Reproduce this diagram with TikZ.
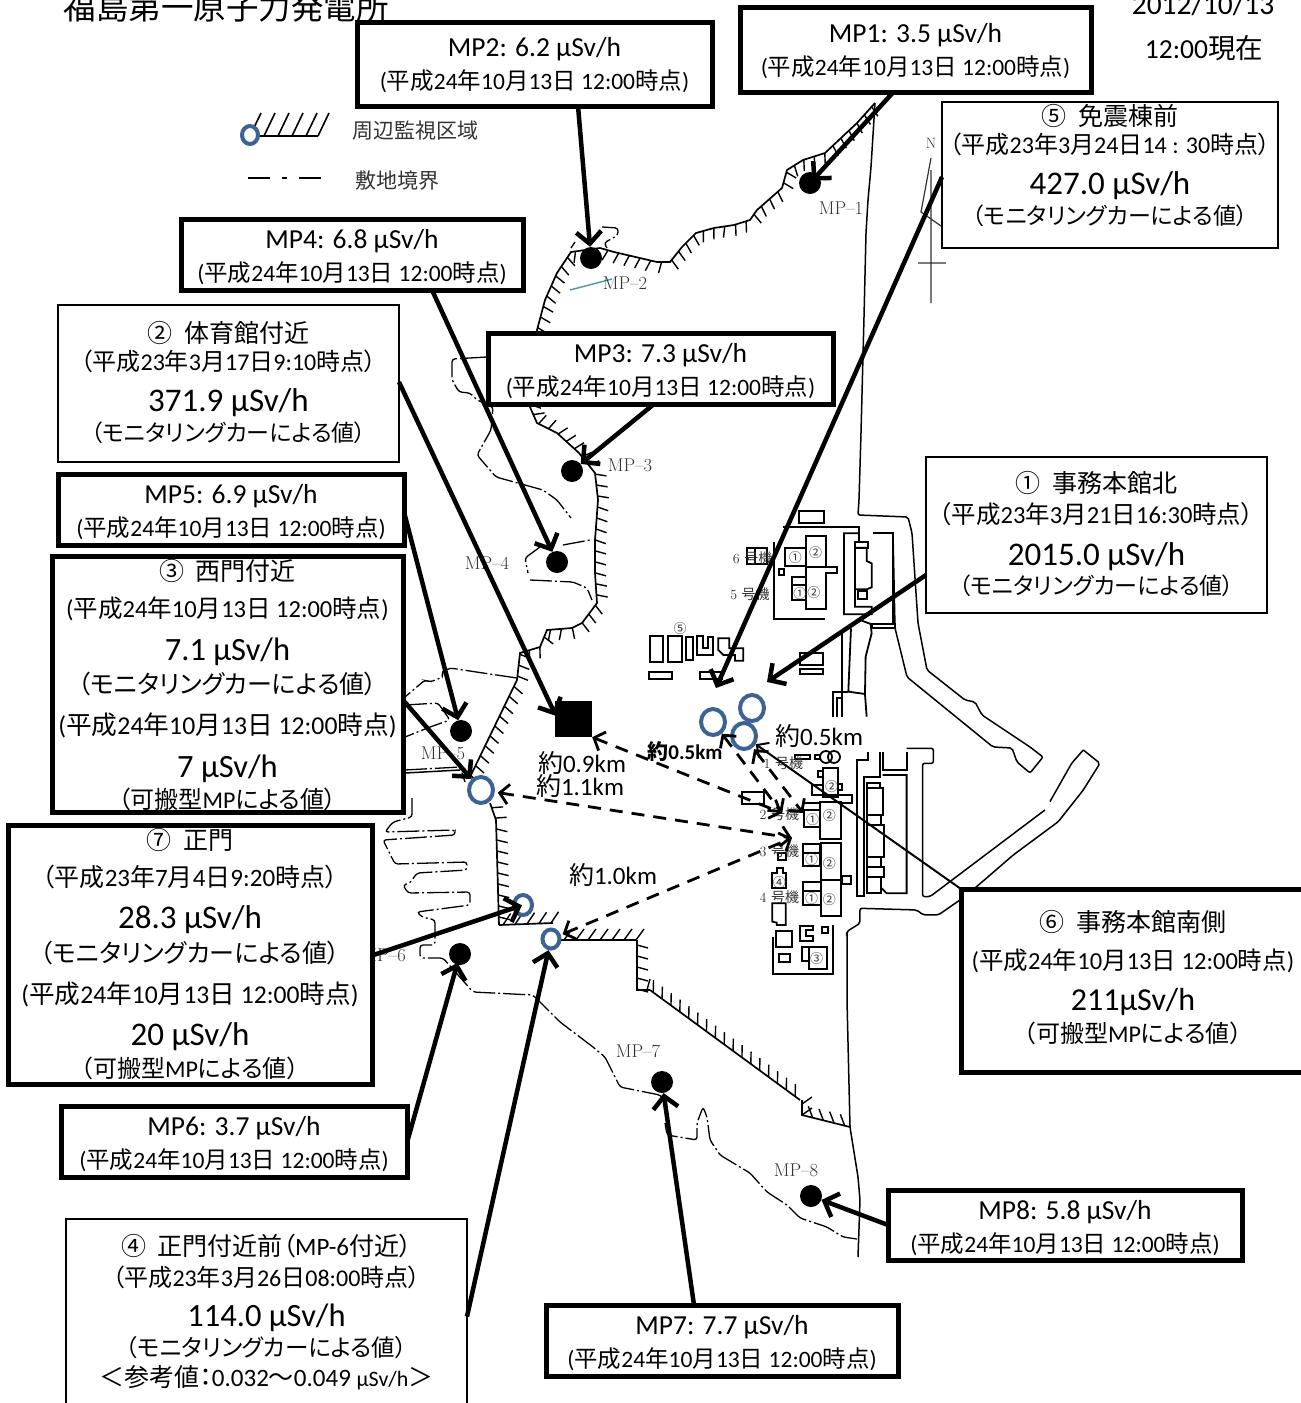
\documentclass[tikz,border=0pt]{standalone}
\usepackage{fontspec}
\usetikzlibrary{arrows.meta,shapes.geometric,decorations.markings}
\setmainfont{Carlito}
\newfontfamily\lat{Carlito}
\newfontfamily\cjk[RawFeature=+palt]{Noto Sans CJK JP}
\newfontfamily\ser{Latin Modern Roman}
\newXeTeXintercharclass\cjkcl
\newcount\cc
\def\setcl#1#2{\cc=#1\relax\loop\XeTeXcharclass\cc=\cjkcl\relax\ifnum\cc<#2\relax\advance\cc by 1\repeat}
\setcl{"2460}{"2473}\setcl{"3000}{"30FF}\setcl{"4E00}{"9FFF}\setcl{"FF00}{"FFEF}
\XeTeXinterchartokenstate=1
\XeTeXinterchartoks 0 \cjkcl={\cjk}
\XeTeXinterchartoks \cjkcl 0={\lat}
\XeTeXinterchartoks 4095 \cjkcl={\cjk}
\XeTeXinterchartoks \cjkcl 4095={\lat}
\definecolor{ringblue}{HTML}{3D6394}
\definecolor{mapink}{HTML}{000000}
\definecolor{labelink}{HTML}{333333}
\newcommand\Rw[3]{\hbox to 0pt{\hss\vrule height #2pt depth 0pt width 0pt\fontsize{#1}{#1}\selectfont\smash{#3}\hss}}
\newcommand\Bx[7]{\pgfmathsetmacro\bw{#5-#3}\pgfmathsetmacro\bh{#6-#4}%
  \node[#1,minimum width=\bw pt,minimum height=\bh pt] (#2) at ({(#3+#5)/2},{(#4+#6)/2}) {\vbox to \bh pt{\offinterlineskip #7\vss}};}
\newcommand\DtA{(平成24年10月13日 12:00時点)}
\newcommand\Mon{（モニタリングカーによる値）}
\newcommand\Kah{（可搬型MPによる値）}
\newcommand\TwoRows[1]{\Rw{27.5}{29.5}{#1}\Rw{23.5}{32.5}{\DtA}}
\tikzset{
  thickbox/.style={draw=black,fill=white,line width=5pt,inner sep=0pt,outer sep=0pt},
  thinbox/.style={draw=black,fill=white,line width=2.8pt,inner sep=0pt,outer sep=0pt},
  arr/.style={line width=4.5pt,-{Straight Barb[length=12pt,width=25pt]}},
  thinarr/.style={line width=2pt,-{Straight Barb[length=9pt,width=18pt]}},
  darr/.style={line width=2.8pt,dash pattern=on 13pt off 9pt,{Straight Barb[length=9pt,width=20pt]}-{Straight Barb[length=9pt,width=20pt]}},
  mapline/.style={line width=1.5pt,draw=mapink,rounded corners=2pt},
  siteline/.style={line width=1.3pt,draw=mapink,rounded corners=3pt,dash pattern=on 22pt off 3pt on 2pt off 3pt},
  bld/.style={line width=1.8pt,draw=mapink},
  hatchA/.style={line width=1.7pt,draw=mapink,postaction={decorate},decoration={markings,mark=between positions 5pt and -1pt step 11pt with {\draw[line width=1.4pt,draw=mapink] (0pt,0pt)--(3pt,11pt);}}},
  hatchB/.style={line width=1.7pt,draw=mapink,postaction={decorate},decoration={markings,mark=between positions 4pt and -1pt step 12pt with {\draw[line width=1.4pt,draw=mapink] (0pt,0pt)--(8pt,11pt);}}},
  hatchC/.style={line width=1.7pt,draw=mapink,postaction={decorate},decoration={markings,mark=between positions 4pt and -1pt step 11pt with {\draw[line width=1.4pt,draw=mapink] (0pt,0pt)--(-7pt,10pt);}}},
  dotnode/.style={circle,fill=black,inner sep=0pt,minimum size=22pt},
  ring/.style={ellipse,draw=ringblue,fill=white,line width=4pt,inner sep=0pt,minimum width=#1pt,minimum height=#1pt+2pt},
  maplbl/.style={font=\ser\fontsize{18.5}{18.5}\selectfont,text=labelink,inner sep=0pt},
  unitlbl/.style={font=\ser\fontsize{14}{14}\selectfont,text=labelink,inner sep=0pt},
  cnum/.style={font=\fontsize{13}{13}\selectfont,text=labelink,inner sep=0pt},
  dist/.style={font=\fontsize{25}{25}\selectfont,inner sep=0pt},
  legtxt/.style={font=\fontsize{21}{21}\selectfont,text=labelink,inner sep=0pt,anchor=west},
  head/.style={font=\fontsize{27.5}{27.5}\selectfont,inner sep=0pt,anchor=base},
}
\begin{document}
\begin{tikzpicture}[x=1pt,y=-1pt]
\useasboundingbox (0,0) rectangle (1301,1403);
\clip (0,0) rectangle (1301,1403);
% headings
\node[head,font=\fontsize{32.5}{33}\selectfont] (title) at (226,19) {福島第一原子力発電所};
\node[head,font=\fontsize{29.5}{30}\selectfont] (date) at (1203,14) {2012/10/13};
\node[head] (now) at (1204,58) {12:00現在};
% legend
\draw[line width=1.6pt] (254,136) -- (318,136);
\foreach \lx in {250,264,278,292,306,318} \draw[line width=1.6pt] (\lx,136) -- (\lx+11,113);
\node[ring=16] (legring) at (250,135) {};
\draw[line width=1.8pt] (248,178) -- (270,178) (282,178) -- (287,178) (299,178) -- (321,178);
\node[legtxt] (leg1) at (352,131) {周辺監視区域};
\node[legtxt] (leg2) at (355,181) {敷地境界};
% north mark
\draw[line width=1.2pt,labelink] (931,170) -- (931,303) (918,263) -- (946,263) (931,158) -- (921,212) -- (941,226);
\node[maplbl,font=\ser\fontsize{15}{15}\selectfont] (north) at (931,143) {N};
% monitored-area boundary
\draw[hatchA] (875,103)--(857,123)--(825,153)--(803,160)--(787,170)--(782,188)--(757,210)--(750,220)--(734,225)--(714,228)--(696,233)--(682,247)--(670,262)--(657,262)--(614,252)--(600,248)--(571,252)--(557,273)--(545,300)--(537,330)--(534,360)--(530,407)--(537,423)--(557,433)--(579,453)--(595,473)--(598,500)--(595,540)--(595,573)--(597,603)--(582,623)--(572,628)--(547,630)--(540,647)--(520,653)--(517,680)--(470,777);
\draw[hatchA] (490,803)--(496,820)--(499,925);
\draw[hatchB] (499,925)--(553,923);
\draw[hatchB] (560,940)--(637,940);
\draw[hatchA] (637,940)--(637,990)--(650,990);
\draw[hatchC] (650,990)--(800,1100);
\draw[hatchC] (802,1100)--(802,1115)--(850,1127);
% coast and breakwaters
\draw[mapline] (875,103)--(871,167)--(868,200)--(866,233)--(864,317)--(861,433)--(859,500)--(858,515)--(908,517)--(912,533)--(918,623)--(927,670)--(965,700)--(975,702)--(982,715)--(1030,747)--(1043,757)--(1030,773)--(1017,762)--(1012,748)--(993,747)--(907,677)--(895,628)--(893,533)--(873,533);
\draw[mapline] (847,932)--(847,1000)--(850,1127)--(858,1177)--(860,1200)--(858,1257);
\draw[line width=1.4pt,draw=blue!30!cyan!40!gray] (570,290)--(612,279);
% site boundary
\draw[siteline] (571,248)--(575,242);
\draw[siteline] (602,227)--(618,228)--(618,235)--(604,243)--(607,248);
\draw[siteline] (487,357)--(452,359)--(452,380)--(459,392)--(470,393)--(477,400)--(493,407)--(491,430)--(477,455)--(496,477)--(543,490)--(557,500)--(571,518);
\draw[siteline] (563,545)--(590,540);
\draw[siteline] (540,547)--(525,558)--(528,573);
\draw[siteline] (530,580)--(573,582)--(587,588)--(592,600);
\draw[siteline] (517,678)--(483,673)--(450,668)--(442,672)--(443,677)--(430,682)--(425,680)--(405,697);
\draw[siteline] (405,705)--(438,703)--(450,720)--(430,727)--(405,737);
\draw[siteline] (405,770)--(460,767)--(465,782);
\draw[mapline] (405,773)--(460,770);
\draw[siteline] (412,798)--(412,817)--(393,822)--(385,832)--(455,830)--(455,835)--(383,840)--(395,864)--(467,862)--(467,870)--(417,873)--(410,883)--(403,885)--(408,893)--(470,892)--(470,905)--(417,912)--(422,917)--(435,920)--(435,945)--(420,945)--(420,958)--(443,958)--(473,992)--(533,995)--(560,1022)--(593,1047)--(605,1057)--(620,1087)--(660,1095)--(665,1100);
\draw[siteline] (665,1123)--(667,1135)--(697,1140)--(697,1123)--(703,1107)--(707,1117)--(710,1140)--(720,1155)--(750,1173)--(767,1192)--(787,1205)--(800,1218)--(827,1227)--(843,1237)--(857,1239);
% plant drawn in the coordinates of a 3x crop
\begin{scope}[shift={(640,500)},x=0.3333pt,y=-0.3333pt]
\foreach \a/\b/\c/\d in {478/33/552/70,435/143/497/198,455/230/497/300,418/208/432/225,322/143/382/192,645/125/683/143,655/272/680/296,695/372/765/385,30/407/70/485,85/407/125/485,137/410/158/480,28/517/97/537,180/517/245/537,480/460/550/495,480/507/550/523,465/765/510/778,525/765/540/778,305/875/372/912,535/812/550/832,595/852/605/870,515/855/550/885,490/908/540/930,493/930/540/982,541/905/603/1018,490/1032/540/1058,490/1058/540/1098,543/1030/603/1140,605/1128/633/1152,490/1147/542/1172,490/1172/542/1215,543/1140/603/1248,413/1060/437/1080,408/1293/457/1340,418/1362/450/1387,545/1280/563/1300,507/1342/560/1408,485/1342/507/1382,550/805/595/890,680/865/730/945,680/945/722/975,680/975/732/1070,680/1070/722/1100,680/1100/732/1130,680/1130/722/1180,680/850/720/865}
  \draw[bld] (\a,\b) rectangle (\c,\d);
\draw[bld] (455,255)--(497,255) (345,143)--(345,192);
\draw[bld] (497,107)--(557,107)--(557,200)--(590,200)--(590,218)--(557,218)--(557,328)--(497,328)--cycle (497,200)--(557,200);
\draw[bld] (403,125)--(403,357)--(555,357) (430,82)--(657,82)--(657,125);
\draw[bld] (657,100)--(612,100)--(612,343)--(695,343)--(695,320)--(645,320)--(645,268)--(680,268)--(695,262)--(695,190)--(680,183)--(680,143)--(645,143)--(645,268);
\draw[bld] (700,100)--(758,100)--(758,370);
\draw[bld] (633,385)--(625,575)--(675,582)--(680,650) (660,360)--(692,372)--(695,400)--(677,470)--(675,582);
\draw[bld] (607,400)--(607,650) (580,650)--(580,575)--(625,575) (590,650)--(590,595)--(607,595);
\draw[bld] (170,407)--(190,407)--(190,445)--(205,445)--(205,410)--(218,410)--(218,465)--(170,465)--cycle;
\draw[bld] (235,415)--(268,415)--(268,445)--(310,445)--(310,482)--(285,482)--(285,465)--(250,465)--(235,450)--cycle;
\draw[bld] (558,771) circle[radius=6pt] (582,771) circle[radius=6pt];
\draw[bld] (515,885)--(635,885)--(635,910)--(605,910);
\draw[bld] (397,1120)--(410,1120)--(410,1103)--(428,1103)--(428,1120)--(437,1120)--(437,1165)--(397,1165)--cycle;
\draw[bld] (397,1210)--(437,1210)--(437,1275)--(410,1275)--(410,1268)--(397,1265)--cycle;
\draw[bld] (480,1278)--(518,1278)--(518,1290)--(497,1290)--(497,1308)--(518,1308)--(518,1322)--(480,1322)--cycle;
\draw[bld] (400,1310)--(400,1422)--(578,1422)--(578,1275);
\draw[bld] (685,755)--(685,780)--(650,780)--(650,1188)--(672,1188)--(672,830)--(720,830)--(720,755);
\draw[bld] (730,755)--(730,810)--(800,810)--(800,755);
\draw[bld] (728,825)--(800,825)--(800,1180)--(740,1180)--(725,1165);
\draw[mapline] (1330,750)--(1380,790)--(1330,870)--(1255,965)--(1120,1065)--(1010,1160)--(960,1200)--(895,1245)--(850,1245)--(830,1230)--(660,1225)--(660,1270)--(620,1295)--(620,1300);
\draw[mapline] (1330,750)--(1295,790)--(1230,905);
\draw[mapline] (1215,930)--(870,1190)--(848,1190)--(848,790)--(880,790)--(880,745)--(800,745);
\foreach \t/\x/\y in {①/466/173,②/527/157,①/480/282,②/522/278,⑤/120/385,②/575/860,①/518/958,②/568/947,①/515/1078,②/568/1090,④/418/1147,①/515/1195,②/568/1200,③/530/1375}
  \node[cnum] (u\x-\y) at (\x,\y) {\t};
\foreach \t/\x/\y in {6/338/176,5/330/282,1/430/790,2/418/942,3/418/1055,4/418/1193}
  \node[unitlbl] (unit\t) at (\x,\y) {\t\ 号機};
\end{scope}
% monitoring posts
\node[dotnode] (d1) at (810,183) {};
\node[dotnode] (d2) at (591,258) {};
\node[dotnode] (d3) at (572,471) {};
\node[dotnode] (d4) at (557,562) {};
\node[dotnode] (d5) at (461,731) {};
\node[dotnode] (d6) at (460,954) {};
\node[dotnode] (d7) at (662,1082) {};
\node[dotnode] (d8) at (811,1196) {};
\node[maplbl] (l1) at (841,208) {MP–1};
\node[maplbl] (l2) at (625,283) {MP–2};
\node[maplbl] (l3) at (630,465) {MP–3};
\node[maplbl] (l4) at (487,563) {MP–4};
\node[maplbl] (l5) at (443,753) {MP–5};
\node[maplbl,anchor=east] (l6) at (406,955) {MP–6};
\node[maplbl] (l7) at (638,1051) {MP–7};
\node[maplbl] (l8) at (796,1170) {MP–8};
\node[fill=black,inner sep=0pt,minimum width=37pt,minimum height=36pt] (sq) at (573.5,719) {};
% measuring rings
\node[ring=24] (r2) at (752,708) {};
\node[ring=24] (r1) at (713,722) {};
\node[ring=24] (r3) at (744,736) {};
\node[ring=24] (r4) at (481,790) {};
\node[ring=18] (r5) at (523,905) {};
\node[ring=17] (r6) at (551,939) {};
% free ends
\coordinate (tip5) at (716,688);
\coordinate (tip1) at (767,682);
\coordinate (nA) at (782,813);
\coordinate (nB) at (803,813);
\coordinate (nC) at (792,838);
% distances
\draw[darr] (sq.south east) -- (nA);
\draw[darr,shorten <=3pt] (r4) -- (nC);
\draw[darr,shorten <=2pt] (r6) -- (nC);
\draw[darr] (r1) -- (nA);
\draw[darr,shorten <=2pt] (r3) -- (nB);
\node[dist,font=\bfseries\fontsize{21}{21}\selectfont] (k1) at (685,751) {約0.5km};
\node[dist] (k2) at (819,736) {約0.5km};
\node[dist] (k3) at (582,763) {約0.9km};
\node[dist] (k4) at (580,786) {約1.1km};
\node[dist] (k5) at (613,875) {約1.0km};
% callouts
\Bx{thickbox}{mp2}{357}{22}{712}{106}{\Rw{27.5}{34.5}{MP2: 6.2 µSv/h}\Rw{23.5}{32.5}{\DtA}}
\Bx{thickbox}{mp1}{740}{7}{1091}{92}{\Rw{27.5}{35.5}{MP1: 3.5 µSv/h}\Rw{23.5}{32.5}{\DtA}}
\Bx{thickbox}{mp4}{181}{219}{523}{290}{\TwoRows{MP4: 6.8 µSv/h}}
\Bx{thickbox}{mp3}{488}{333}{833}{404}{\TwoRows{MP3: 7.3 µSv/h}}
\Bx{thickbox}{mp5}{58}{474}{404}{545}{\TwoRows{MP5: 6.9 µSv/h}}
\Bx{thickbox}{mp6}{61}{1106}{407}{1177}{\TwoRows{MP6: 3.7 µSv/h}}
\Bx{thickbox}{mp8}{888}{1190}{1242}{1260}{\TwoRows{MP8: 5.8 µSv/h}}
\Bx{thickbox}{mp7}{546}{1305}{898}{1376}{\TwoRows{MP7: 7.7 µSv/h}}
\Bx{thinbox}{b5}{942}{102}{1278}{248}{\Rw{25}{23}{⑤\ \ 免震棟前}\Rw{24}{28}{（平成23年3月24日14 : 30時点）}\Rw{33}{41}{427.0 µSv/h}\Rw{23}{30}{\Mon}}
\Bx{thinbox}{b2}{58}{305}{399}{462}{\Rw{25}{37}{②\ \ 体育館付近}\Rw{24}{28}{（平成23年3月17日9:10時点）}\Rw{33}{41}{371.9 µSv/h}\Rw{23}{30}{\Mon}}
\Bx{thinbox}{b1}{926}{457}{1267}{613}{\Rw{25}{35}{①\ \ 事務本館北}\Rw{24.5}{31}{（平成23年3月21日16:30時点）}\Rw{33}{42}{2015.0 µSv/h}\Rw{23}{29}{\Mon}}
\Bx{thickbox}{b3}{52}{556}{403}{812}{\Rw{25}{24}{③\ \ 西門付近}\Rw{24.5}{37}{\DtA}\Rw{32.5}{43}{7.1 µSv/h}\Rw{25}{33}{\Mon}\Rw{25.7}{41}{\DtA}\Rw{32.5}{43}{7 µSv/h}\Rw{24}{31}{\Kah}}
\Bx{thickbox}{b7}{8}{825}{372}{1084}{\Rw{25}{24}{⑦\ \ 正門}\Rw{25}{37}{（平成23年7月4日9:20時点）}\Rw{33}{42}{28.3 µSv/h}\Rw{25}{34}{\Mon}\Rw{25.6}{41}{\DtA}\Rw{33}{42}{20 µSv/h}\Rw{24}{32}{\Kah}}
\Bx{thickbox}{b6}{961}{889}{1305}{1072}{\Rw{25}{42}{⑥\ \ 事務本館南側}\Rw{24.5}{38}{\DtA}\Rw{32}{41}{211µSv/h}\Rw{24}{32}{\Kah}}
\Bx{thinbox}{b4}{66}{1219}{467}{1410}{\Rw{25}{36}{④\ \ 正門付近前（MP-6付近）}\Rw{24}{31}{（平成23年3月26日08:00時点）}\Rw{32.5}{40}{114.0 µSv/h}\Rw{23.5}{30}{\Mon}\Rw{25}{30}{＜参考値：0.032〜0.049 {\fontsize{22}{22}\selectfont µSv/h}＞}}
% connectors
\draw[arr] ([xshift=43.5pt]mp2.south) -- (d2);
\draw[arr,shorten >=-8pt] ([xshift=-22pt]mp1.south) -- (d1);
\draw[arr] ([xshift=80pt]mp4.south) -- (d4);
\draw[arr] ([xshift=-6.5pt]mp3.south) -- (d3);
\draw[arr] ([yshift=-2.5pt]mp5.east) -- (d5);
\draw[arr,shorten >=-2pt] ([yshift=-1pt]mp6.east) -- (d6);
\draw[arr] ([xshift=-28pt]mp7.north) -- (d7);
\draw[arr] (mp8.west) -- (d8);
\draw[arr] ([yshift=-2pt]b5.west) -- (tip5);
\draw[arr] ([yshift=1.5pt]b2.east) -- ([xshift=1pt,yshift=-15pt]sq.north west);
\draw[arr] ([yshift=-40pt]b1.west) -- (tip1);
\draw[arr] ([yshift=-16pt]b3.east) -- (r4);
\draw[arr,shorten >=-10pt] ([yshift=-1pt]b7.east) -- (r5);
\draw[arr] ([yshift=-2pt]b4.east) -- (r6);
\draw[thinarr] (b6.north west) -- (r3);
\end{tikzpicture}
\end{document}
